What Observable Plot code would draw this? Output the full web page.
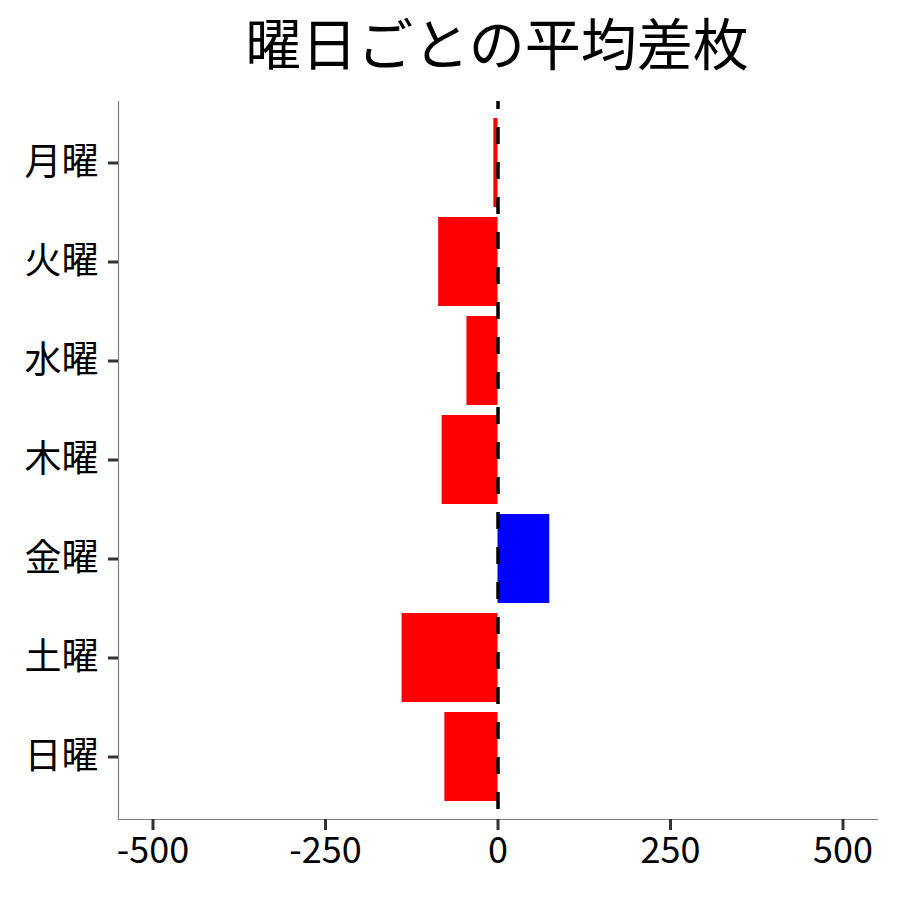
<!DOCTYPE html>
<html>
<head>
<meta charset="utf-8">
<script src="https://cdn.jsdelivr.net/npm/d3@7"></script>
<script src="https://cdn.jsdelivr.net/npm/@observablehq/plot@0.6"></script>
<style>
  body { margin: 0; background: #fff; font-family: "Noto Sans CJK JP", "Noto Sans", sans-serif; }
  #title { width: 900px; height: 100px; position: relative; }
  #title span { position: absolute; left: 497px; transform: translateX(-50%); top: 0px; font-size: 56px; color: #000; white-space: nowrap; }
</style>
</head>
<body>
<div id="title"><span>曜日ごとの平均差枚</span></div>
<div id="chart"></div>
<script>
const days = ["月曜", "火曜", "水曜", "木曜", "金曜", "土曜", "日曜"];
const values = [-6, -86, -45, -81, 75, -139, -77];
const xTicks = [-500, -250, 0, 250, 500];
const xDomain = [-550, 550];

const data = days.map((d, i) => ({day: d, value: values[i]}));

const chart = Plot.plot({
  width: 900,
  height: 800,
  marginTop: 1,
  marginBottom: 81,
  marginLeft: 118,
  marginRight: 23,
  style: {fontFamily: '"Noto Sans CJK JP", "Noto Sans", sans-serif', background: "#fff"},
  x: {domain: xDomain, ticks: xTicks, label: null},
  y: {domain: days, paddingInner: 0.1, paddingOuter: 0.15, label: null},
  color: {type: "identity"},
  marks: [
    Plot.barX(data, {x: "value", y: "day", fill: d => d.value < 0 ? "red" : "blue"}),
    Plot.ruleX([0], {stroke: "black", strokeWidth: 3.5, strokeDasharray: "17,18", strokeDashoffset: 9}),
    Plot.frame({anchor: "left", stroke: "#7f7f7f", strokeWidth: 1.2}),
    Plot.frame({anchor: "bottom", stroke: "#7f7f7f", strokeWidth: 1.2}),
    Plot.axisX({ticks: xTicks, tickSize: 11, tickPadding: 7, fontSize: 36, stroke: "#333", strokeWidth: 3, strokeOpacity: 1, fill: "#000", label: null, tickFormat: d => d < 0 ? "-" + Math.abs(d) : String(d)}),
    Plot.axisY({tickSize: 10, tickPadding: 10, fontSize: 37, stroke: "#333", strokeWidth: 3, strokeOpacity: 1, fill: "#000", label: null})
  ]
});
document.getElementById("chart").appendChild(chart);
</script>
</body>
</html>
